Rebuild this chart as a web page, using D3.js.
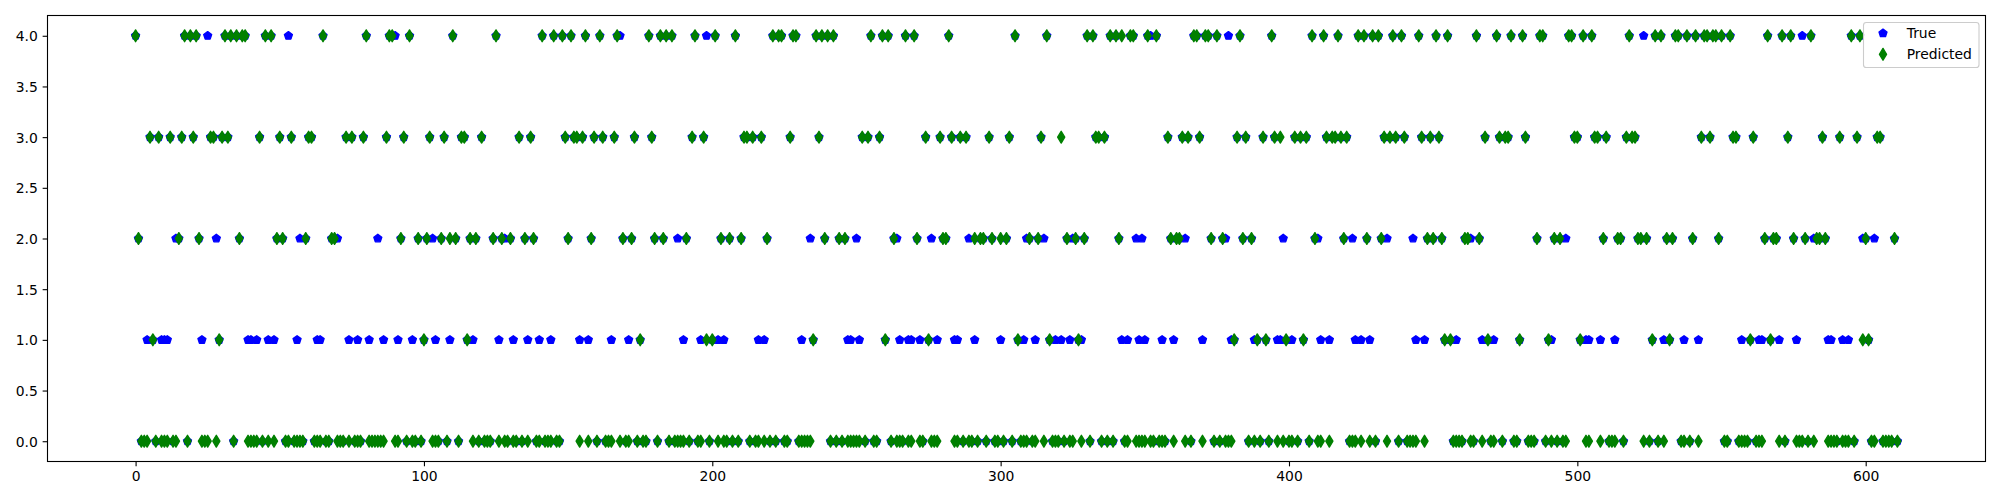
<!DOCTYPE html>
<html>
<head>
<meta charset="utf-8">
<script src="https://cdn.jsdelivr.net/npm/d3@7"></script>
<style>
  html, body { margin: 0; padding: 0; background: #ffffff; }
  svg { display: block; }
  text { font-family: "DejaVu Sans", sans-serif; }
</style>
</head>
<body>
<svg id="chart" width="2000" height="500"></svg>
<script>
// ---------------- DATA ----------------
const sampleCount = 612;               // samples 0 .. 611
const xTickValues = [0, 100, 200, 300, 400, 500, 600];
const yTickValues = [0, 0.5, 1, 1.5, 2, 2.5, 3, 3.5, 4];
const seriesNames = ["True", "Predicted"];

// sample indices whose predicted class is 4 / 3 / 2 / 1 (all others are class 0)
const predictedClass4 = [0,17,19,21,31,33,35,37,38,45,47,65,80,88,89,95,
  110,125,141,145,148,151,156,161,167,178,182,184,186,194,
  201,208,221,223,224,228,229,236,238,240,242,255,259,261,267,270,282,
  305,316,330,332,338,340,342,345,346,351,354,367,368,371,372,375,383,394,
  408,412,417,424,426,429,431,436,439,445,451,455,465,472,477,481,487,488,497,498,
  502,505,518,527,529,534,535,538,541,544,545,547,548,550,553,566,571,574,581,595,598];
const predictedClass3 = [5,8,12,16,20,26,27,30,32,43,50,54,60,61,73,75,79,87,93,
  102,107,113,114,120,133,137,149,152,153,155,159,162,166,173,179,193,197,
  211,212,214,217,227,237,252,254,258,274,279,283,286,288,296,
  303,314,321,333,334,336,358,363,365,369,382,385,391,395,397,
  402,404,406,413,415,416,418,420,433,435,437,440,446,449,452,468,473,475,476,482,499,500,
  506,507,510,517,519,520,543,546,554,555,561,573,585,591,597,604,605];
const predictedClass2 = [1,15,22,36,49,51,59,68,69,92,98,
  101,106,109,111,116,118,124,127,130,135,138,150,158,169,172,180,183,191,
  203,206,210,219,239,244,246,263,271,280,281,291,293,294,297,
  300,302,310,313,323,326,329,341,359,361,362,373,377,384,387,
  409,419,427,432,448,450,453,461,462,466,486,492,494,
  509,514,515,521,522,524,531,533,540,549,565,568,569,575,579,583,584,586,600,610];
const predictedClass1 = [6,29,100,115,175,198,200,235,260,275,306,317,327,381,389,392,399,
  405,454,456,469,480,490,501,526,532,560,567,599,601];

// sample indices where the true class differs from the prediction
const trueClass4 = [25,53,90,168,198,352,379,523,578];
const trueClass2 = [14,28,57,70,84,103,128,188,234,250,264,276,289,309,315,325,347,349,
  364,378,398,410,422,434,443,463,496,582,599,603];
const trueClass1 = [4,9,10,11,23,39,40,42,46,48,56,63,64,74,77,81,86,91,96,104,109,117,
  126,131,136,140,144,154,157,165,171,190,196,202,204,216,218,231,247,248,251,265,268,
  269,272,278,284,285,291,300,308,312,319,321,324,328,342,344,348,350,356,360,370,380,
  388,396,397,401,411,414,423,425,428,444,447,458,467,471,491,503,504,508,513,530,537,
  542,557,563,564,570,576,587,588,592,594];

// ---------------- BUILD SERIES ----------------
const predicted = new Array(sampleCount).fill(0);
[[predictedClass1,1],[predictedClass2,2],[predictedClass3,3],[predictedClass4,4]]
  .forEach(([list, c]) => list.forEach(i => { predicted[i] = c; }));
const trueVals = predicted.slice();
[[trueClass1,1],[trueClass2,2],[trueClass4,4]]
  .forEach(([list, c]) => list.forEach(i => { trueVals[i] = c; }));

// ---------------- LAYOUT ----------------
const svg = d3.select("#chart");
const L = 47.5, R = 1985.5, T = 15.5, B = 461.5;
const x = d3.scaleLinear().domain([-0.05 * (sampleCount - 1), (sampleCount - 1) * 1.05]).range([L, R]);
const y = d3.scaleLinear().domain([-0.2, 4.2]).range([B, T]);

const fontSize = 13.9;
const tickLen = 4.86;

// markers (matplotlib 'p' and 'd', markersize 6)
const ms = 6 * 100 / 72;
const pentR = ms * 0.5;
const pentagonPath = (() => {
  const pts = d3.range(5).map(k => {
    const a = -Math.PI / 2 + k * 2 * Math.PI / 5;
    return [pentR * Math.cos(a), pentR * Math.sin(a)];
  });
  return "M" + pts.map(p => p[0].toFixed(3) + "," + p[1].toFixed(3)).join("L") + "Z";
})();
const dh = ms * Math.SQRT1_2, dw = dh * 0.6;
const diamondPath = `M0,${-dh}L${dw},0L0,${dh}L${-dw},0Z`;

const blue = "#0000ff", green = "#008000";

// ---------------- POINTS ----------------
const idx = d3.range(sampleCount);
const plot = svg.append("g");
plot.selectAll("path.true").data(idx).join("path")
  .attr("class", "true")
  .attr("d", pentagonPath)
  .attr("transform", i => `translate(${x(i)},${y(trueVals[i])})`)
  .attr("fill", blue).attr("stroke", blue).attr("stroke-width", 1.39)
  .attr("stroke-linejoin", "round");
plot.selectAll("path.pred").data(idx).join("path")
  .attr("class", "pred")
  .attr("d", diamondPath)
  .attr("transform", i => `translate(${x(i)},${y(predicted[i])})`)
  .attr("fill", green).attr("stroke", green).attr("stroke-width", 1.39)
  .attr("stroke-linejoin", "round");

// ---------------- AXES ----------------
const xAxis = d3.axisBottom(x).tickValues(xTickValues).tickFormat(d3.format("d"))
  .tickSize(tickLen).tickPadding(tickLen);
const gx = svg.append("g").attr("transform", `translate(0,${B})`).call(xAxis);
gx.select(".domain").remove();
gx.selectAll("line").attr("stroke", "#000").attr("stroke-width", 1.1);
gx.selectAll("text").attr("font-size", fontSize).attr("font-family", "DejaVu Sans").attr("fill", "#000");

const yAxis = d3.axisLeft(y).tickValues(yTickValues).tickFormat(d3.format(".1f"))
  .tickSize(tickLen).tickPadding(tickLen);
const gy = svg.append("g").attr("transform", `translate(${L},0)`).call(yAxis);
gy.select(".domain").remove();
gy.selectAll("line").attr("stroke", "#000").attr("stroke-width", 1.1);
gy.selectAll("text").attr("font-size", fontSize).attr("font-family", "DejaVu Sans")
  .attr("fill", "#000").attr("dy", "0.36em");

svg.append("rect").attr("x", L).attr("y", T).attr("width", R - L).attr("height", B - T)
  .attr("fill", "none").attr("stroke", "#000").attr("stroke-width", 1.1);

// ---------------- LEGEND ----------------
const lg = svg.append("g");
lg.append("rect").attr("x", 1863.5).attr("y", 22.5).attr("width", 115.5).attr("height", 45)
  .attr("rx", 2.8).attr("ry", 2.8)
  .attr("fill", "#ffffff").attr("fill-opacity", 0.8)
  .attr("stroke", "#cccccc").attr("stroke-width", 1.1);
const legendRows = [
  { name: seriesNames[0], path: pentagonPath, color: blue, cy: 33.3 },
  { name: seriesNames[1], path: diamondPath, color: green, cy: 54.3 }
];
legendRows.forEach(r => {
  lg.append("path").attr("d", r.path).attr("transform", `translate(1883,${r.cy})`)
    .attr("fill", r.color).attr("stroke", r.color).attr("stroke-width", 1.39)
    .attr("stroke-linejoin", "round");
  lg.append("text").attr("x", 1906.7).attr("y", r.cy).attr("dy", "0.36em")
    .attr("font-size", fontSize).attr("fill", "#000").text(r.name);
});
</script>
</body>
</html>
